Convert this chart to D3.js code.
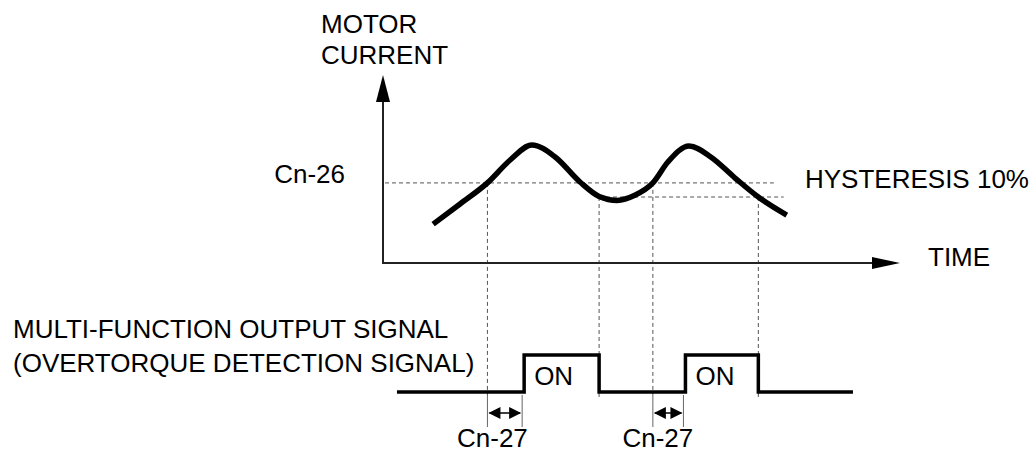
<!DOCTYPE html>
<html>
<head>
<meta charset="utf-8">
<script src="https://cdn.jsdelivr.net/npm/d3@7"></script>
<style>
  html, body { margin: 0; padding: 0; background: #fff; }
  svg { display: block; }
  text { font-family: "Liberation Sans", Arial, Helvetica, sans-serif; font-size: 26px; fill: #000; }
</style>
</head>
<body>
<svg id="chart" width="1036" height="453"></svg>
<script>
// Motor current waveform (time, current) in relative units
const curveTime    = [9.7, 14.9, 20.2, 24.6, 28.8, 33.3, 38.1, 41.8, 45.3, 48.7, 52.2, 55.1, 59.2, 63.4, 68.1, 72.6, 78.1];
const curveCurrent = [20.7, 31.4, 42.6, 54.8, 62.8, 56.4, 43.1, 35.4, 33.3, 36.0, 42.6, 53.7, 62.2, 56.4, 45.2, 35.1, 25.5];

// Detection level (Cn-26) and release level after hysteresis
const detectLevel  = 42.6;
const releaseLevel = 35.1;

// Times where the current crosses the detection / release levels
const crossUpTimes   = [20.2, 52.2];
const crossDownTimes = [41.8, 72.6];

// Output signal: ON after the Cn-27 delay, OFF at release
const signalStart = 2.7;
const signalEnd   = 90.9;
const onTimes     = [27.3, 58.5];
const offTimes    = [41.8, 72.6];

// Texts
const yAxisTitle   = ["MOTOR", "CURRENT"];
const xAxisTitle   = "TIME";
const detectLabel  = "Cn-26";
const hystLabel    = "HYSTERESIS 10%";
const signalTitle  = ["MULTI-FUNCTION OUTPUT SIGNAL", "(OVERTORQUE DETECTION SIGNAL)"];
const onLabel      = "ON";
const delayLabel   = "Cn-27";

const svg = d3.select("#chart");

// Scales
const x = d3.scaleLinear().domain([0, 100]).range([383, 900]);
const y = d3.scaleLinear().domain([0, 100]).range([263, 75]);
const sig = d3.scaleLinear().domain([0, 1]).range([392, 355]);

const dashColor = "#555";
const dash = "4,3";

// ---- dashed reference lines ----
const guides = svg.append("g")
  .attr("stroke", dashColor).attr("stroke-width", 1).attr("stroke-dasharray", dash).attr("fill", "none");

// detection level line
guides.append("line")
  .attr("x1", x(0) + 2).attr("x2", x(75.6))
  .attr("y1", y(detectLevel)).attr("y2", y(detectLevel));
// release level line
guides.append("line")
  .attr("x1", x(crossDownTimes[0])).attr("x2", x(77.5))
  .attr("y1", y(releaseLevel)).attr("y2", y(releaseLevel));

// verticals from the rising crossings down to the delay bracket
crossUpTimes.forEach(t => {
  guides.append("line")
    .attr("x1", x(t)).attr("x2", x(t))
    .attr("y1", y(detectLevel)).attr("y2", sig(0) + 3);
});
// verticals from the falling crossings down past the signal
crossDownTimes.forEach(t => {
  guides.append("line")
    .attr("x1", x(t)).attr("x2", x(t))
    .attr("y1", y(releaseLevel)).attr("y2", sig(0) + 8);
});

// ---- axes ----
const axisColor = "#222";
svg.append("line")
  .attr("x1", x(0)).attr("x2", x(0))
  .attr("y1", y(0)).attr("y2", y(86))
  .attr("stroke", axisColor).attr("stroke-width", 2);
svg.append("line")
  .attr("x1", x(0) - 1).attr("x2", x(96))
  .attr("y1", y(0)).attr("y2", y(0))
  .attr("stroke", axisColor).attr("stroke-width", 2);

// arrow heads
svg.append("path")
  .attr("d", `M${x(0)},${y(100)} L${x(0) - 7},${y(100) + 27} L${x(0) + 7},${y(100) + 27} Z`)
  .attr("fill", "#000");
svg.append("path")
  .attr("d", `M${x(100)},${y(0)} L${x(100) - 28},${y(0) - 6} L${x(100) - 28},${y(0) + 6} Z`)
  .attr("fill", "#000");

// ---- current waveform ----
const pts = curveTime.map((t, i) => [t, curveCurrent[i]]);
svg.append("path")
  .datum(pts)
  .attr("d", d3.line().x(d => x(d[0])).y(d => y(d[1])).curve(d3.curveMonotoneX))
  .attr("fill", "none").attr("stroke", "#000").attr("stroke-width", 5.5)
  .attr("stroke-linejoin", "round");

// ---- output signal ----
const sigPts = [[signalStart, 0]];
onTimes.forEach((t, i) => {
  sigPts.push([t, 0], [t, 1], [offTimes[i], 1], [offTimes[i], 0]);
});
sigPts.push([signalEnd, 0]);
svg.append("path")
  .datum(sigPts)
  .attr("d", d3.line().x(d => x(d[0])).y(d => sig(d[1])))
  .attr("fill", "none").attr("stroke", "#000").attr("stroke-width", 3.5)
  .attr("stroke-linejoin", "miter");

// ---- delay brackets (Cn-27) ----
const brY = 413;
crossUpTimes.forEach((t, i) => {
  const xa = x(t), xb = x(onTimes[i]) - 2;
  const g = svg.append("g");
  [xa, xb].forEach(xx => {
    g.append("line").attr("x1", xx).attr("x2", xx).attr("y1", 395).attr("y2", 427)
      .attr("stroke", "#666").attr("stroke-width", 1);
  });
  g.append("line").attr("x1", xa + 2).attr("x2", xb - 2).attr("y1", brY).attr("y2", brY)
    .attr("stroke", "#000").attr("stroke-width", 1.5);
  g.append("path").attr("d", `M${xa + 1},${brY} L${xa + 13},${brY - 6} L${xa + 13},${brY + 6} Z`).attr("fill", "#000");
  g.append("path").attr("d", `M${xb - 1},${brY} L${xb - 13},${brY - 6} L${xb - 13},${brY + 6} Z`).attr("fill", "#000");
  svg.append("text").attr("x", xa + 5).attr("y", 447).attr("text-anchor", "middle").text(delayLabel);
});

// ON labels
onTimes.forEach(t => {
  svg.append("text").attr("x", x(t) + 10).attr("y", 385).text(onLabel);
});

// ---- text labels ----
svg.append("text").attr("x", 321).attr("y", 33).text(yAxisTitle[0]);
svg.append("text").attr("x", 321).attr("y", 64).text(yAxisTitle[1]);
svg.append("text").attr("x", 928).attr("y", 266).text(xAxisTitle);
svg.append("text").attr("x", x(0) - 38).attr("y", y(detectLevel)).attr("text-anchor", "end").text(detectLabel);
svg.append("text").attr("x", 805).attr("y", 188).text(hystLabel);
svg.append("text").attr("x", 13).attr("y", 338).text(signalTitle[0]);
svg.append("text").attr("x", 13).attr("y", 372).text(signalTitle[1]);
</script>
</body>
</html>
